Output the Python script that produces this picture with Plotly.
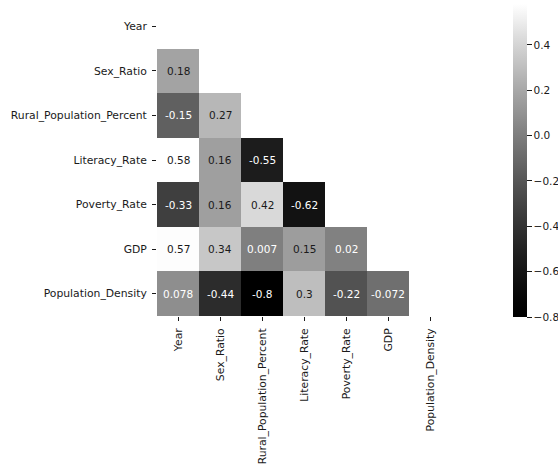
import plotly.graph_objects as go

# Variables in the correlation matrix
labels = ["Year", "Sex_Ratio", "Rural_Population_Percent", "Literacy_Rate",
          "Poverty_Rate", "GDP", "Population_Density"]

# Lower-triangle correlation coefficients (row i holds columns 0..i-1)
row_sex_ratio = [0.18]
row_rural = [-0.15, 0.27]
row_literacy = [0.58, 0.16, -0.55]
row_poverty = [-0.33, 0.16, 0.42, -0.62]
row_gdp = [0.57, 0.34, 0.007, 0.15, 0.02]
row_density = [0.078, -0.44, -0.8, 0.3, -0.22, -0.072]

lower_rows = [[], row_sex_ratio, row_rural, row_literacy,
              row_poverty, row_gdp, row_density]

# Colorbar ticks
cbar_ticks = [-0.8, -0.6, -0.4, -0.2, 0.0, 0.2, 0.4]

n = len(labels)
z = []
for i in range(n):
    row = list(lower_rows[i]) + [None] * (n - len(lower_rows[i]))
    z.append(row)

vals = [v for r in lower_rows for v in r]
zmin, zmax = min(vals), max(vals)

# Gray ramp, black -> white, with a slight gamma on the mid tones
gamma = 1.3
steps = 20
colorscale = []
for k in range(steps + 1):
    t = k / steps
    g = round(255 * t ** gamma)
    colorscale.append([t, f"rgb({g},{g},{g})"])

font_family = "DejaVu Sans"
text_dark = "#1a1a1a"

fig = go.Figure()
fig.add_trace(go.Heatmap(
    z=z, x=labels, y=labels,
    zmin=zmin, zmax=zmax,
    colorscale=colorscale,
    hoverongaps=False,
    xgap=0, ygap=0,
    colorbar=dict(
        thickness=14,
        len=313, lenmode="pixels",
        x=1.211, xanchor="left", xpad=0,
        y=1.0, yanchor="top", yref="paper", ypad=0,
        outlinewidth=0,
        ticks="outside", ticklen=5, tickcolor=text_dark,
        tickvals=cbar_ticks,
        ticktext=[f"{t:.1f}".replace("-", "\u2212") for t in cbar_ticks],
        tickfont=dict(family=font_family, size=10.5, color=text_dark),
    ),
))


def srgb_to_lin(c):
    return c / 12.92 if c <= 0.04045 else ((c + 0.055) / 1.055) ** 2.4


annotations = []
for i in range(n):
    for j, v in enumerate(lower_rows[i]):
        level = (v - zmin) / (zmax - zmin)
        lum = srgb_to_lin(level)
        color = text_dark if lum > 0.408 else "#ffffff"
        annotations.append(dict(
            x=labels[j], y=labels[i], text=f"{v:.2g}",
            showarrow=False, xref="x", yref="y",
            font=dict(family=font_family, size=10.5, color=color),
        ))

fig.update_layout(
    width=558, height=475,
    margin=dict(l=157, r=107, t=4, b=159, autoexpand=False),
    paper_bgcolor="white", plot_bgcolor="white",
    annotations=annotations,
    font=dict(family=font_family, color=text_dark),
    xaxis=dict(
        showgrid=False, zeroline=False, showline=False,
        ticks="outside", ticklen=4, tickcolor=text_dark,
        tickangle=-90, ticklabelstandoff=3,
        tickfont=dict(family=font_family, size=10.8, color=text_dark),
    ),
    yaxis=dict(
        showgrid=False, zeroline=False, showline=False,
        autorange="reversed",
        ticks="outside", ticklen=4, tickcolor=text_dark,
        ticklabelstandoff=3,
        tickfont=dict(family=font_family, size=10.8, color=text_dark),
    ),
)

fig.write_html("out.html")
